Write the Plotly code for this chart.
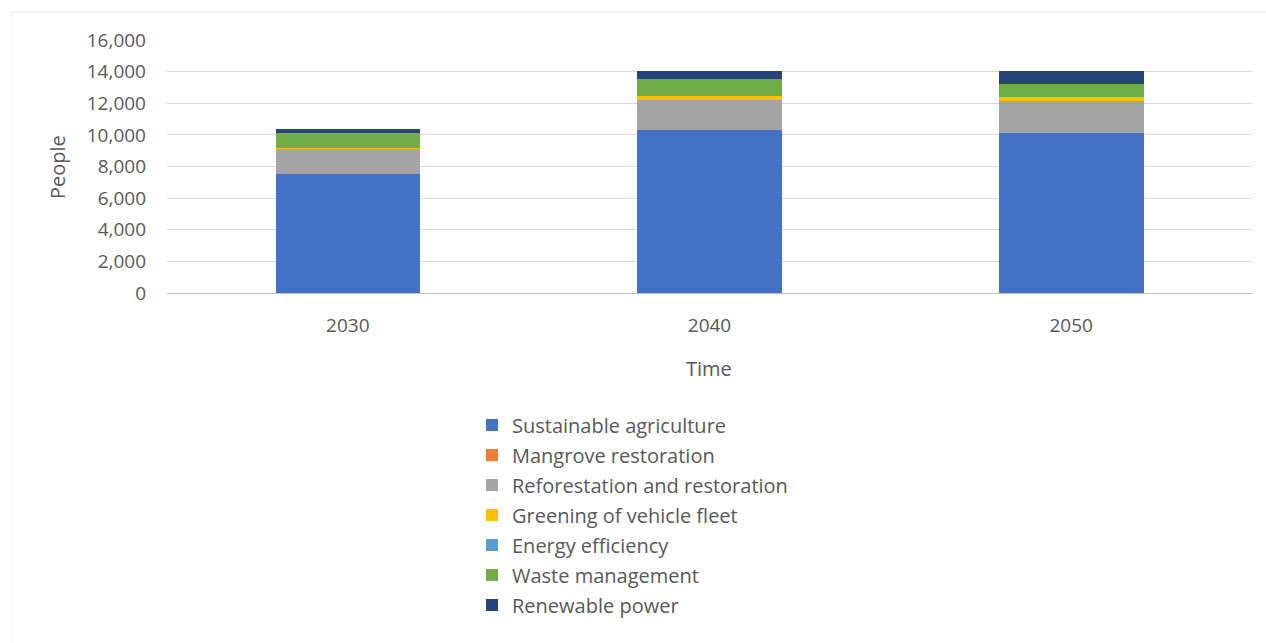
import plotly.graph_objects as go

# Projected people employed per green-economy measure
years = ["2030", "2040", "2050"]
sustainable_agriculture = [7500, 10300, 10100]
mangrove_restoration = [0, 0, 0]
reforestation_restoration = [1650, 1900, 2050]
greening_vehicle_fleet = [50, 250, 250]
energy_efficiency = [0, 0, 0]
waste_management = [900, 1100, 800]
renewable_power = [280, 470, 850]

y_ticks = [0, 2000, 4000, 6000, 8000, 10000, 12000, 14000, 16000]

series = [
    ("Sustainable agriculture", sustainable_agriculture, "#4472C4"),
    ("Mangrove restoration", mangrove_restoration, "#ED7D31"),
    ("Reforestation and restoration", reforestation_restoration, "#A5A5A5"),
    ("Greening of vehicle fleet", greening_vehicle_fleet, "#FFC000"),
    ("Energy efficiency", energy_efficiency, "#5B9BD5"),
    ("Waste management", waste_management, "#70AD47"),
    ("Renewable power", renewable_power, "#264478"),
]

FONT = "Open Sans"
TEXT = "#595959"

fig = go.Figure()
for name, vals, color in series:
    fig.add_trace(go.Bar(
        x=years, y=vals, name=name, legendgroup=name,
        marker=dict(color=color, line=dict(width=0)),
    ))

fig.update_layout(
    barmode="stack",
    bargap=0.6,
    width=1266, height=643,
    margin=dict(l=167, r=14, t=40, b=350, autoexpand=False),
    paper_bgcolor="white",
    plot_bgcolor="white",
    font=dict(family=FONT, color=TEXT, size=19),
    showlegend=True,
    legend=dict(
        orientation="v",
        x=(472 - 167) / 1085, xanchor="left",
        y=-0.445, yanchor="top",
        traceorder="grouped",
        tracegroupgap=1,
        font=dict(family=FONT, size=20, color=TEXT),
        itemwidth=30,
        bgcolor="rgba(0,0,0,0)",
    ),
    xaxis=dict(
        type="category",
        automargin=False,
        showgrid=False,
        showline=True, linecolor="#BFBFBF", linewidth=1,
        ticks="", ticklabelstandoff=15,
        tickfont=dict(family=FONT, size=19, color=TEXT),
    ),
    yaxis=dict(
        range=[0, 16000],
        automargin=False,
        tickvals=y_ticks,
        tickformat=",d",
        showgrid=True, gridcolor="#D9D9D9", gridwidth=1,
        zeroline=False,
        showline=False,
        ticks="", ticklabelstandoff=20,
        tickfont=dict(family=FONT, size=19, color=TEXT),
    ),
    annotations=[
        dict(text="People", xref="paper", yref="paper",
             x=(57 - 167) / 1085, y=(293 - 167) / 253,
             xanchor="center", yanchor="middle", textangle=-90,
             showarrow=False, font=dict(family=FONT, size=20, color=TEXT)),
        dict(text="Time", xref="paper", yref="paper",
             x=(709 - 167) / 1085, y=(293 - 368) / 253,
             xanchor="center", yanchor="middle",
             showarrow=False, font=dict(family=FONT, size=20, color=TEXT)),
    ],
    shapes=[
        dict(type="rect", xref="paper", yref="paper",
             x0=(12 - 167) / 1085, x1=(1275 - 167) / 1085,
             y0=(293 - 652) / 253, y1=(293 - 12) / 253,
             line=dict(color="#EBEBEB", width=1), layer="below"),
    ],
)

fig.write_html("out.html")
